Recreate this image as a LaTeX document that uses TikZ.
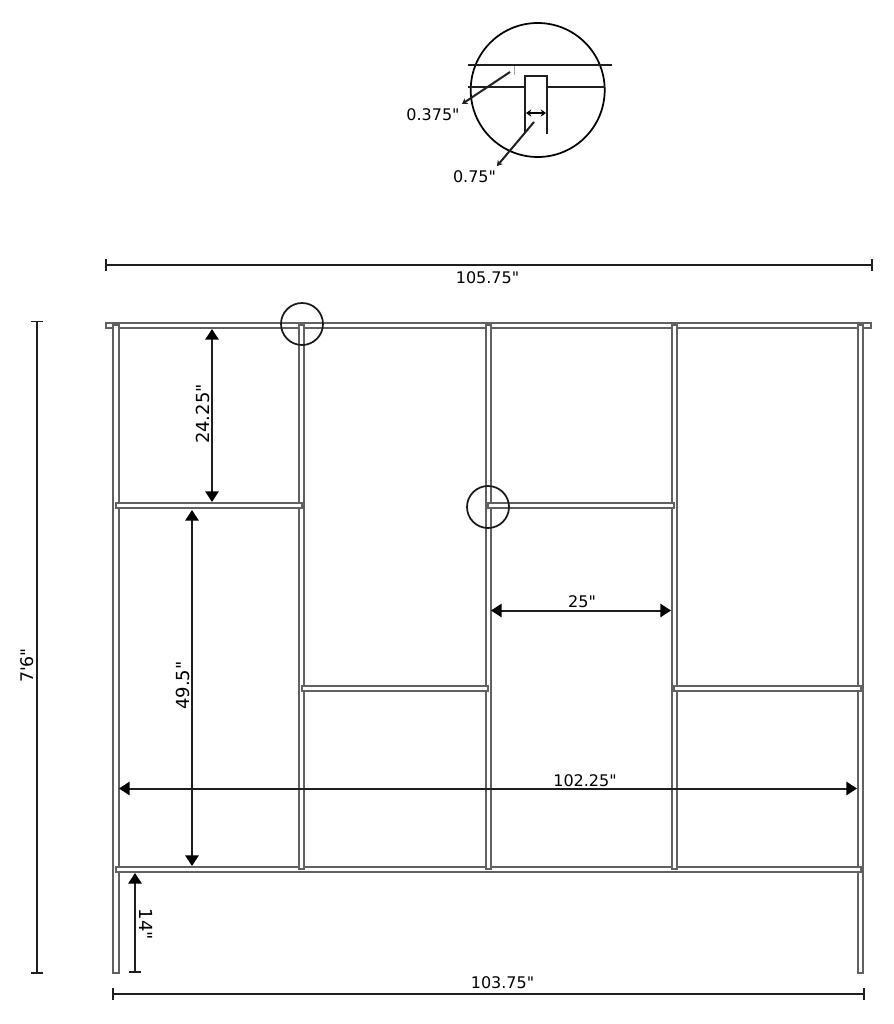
\documentclass[tikz,border=0pt]{standalone}
\usepackage{fontspec}
\setmainfont{DejaVu Sans}[Ligatures=TeXOff]
\usetikzlibrary{arrows.meta}
\newcommand{\barbox}[5]{\node[barstyle,minimum width={(#4-#2)*0.75pt},minimum height={(#5-#3)*0.75pt}] (#1) at ({(#2+#4)/2},{(#3+#5)/2}) {};}
\tikzset{
  barstyle/.style={draw=black!62,fill=white,line width=1.5pt,inner sep=0pt,outer sep=0pt,rectangle},
  dimline/.style={draw=black!88,line width=1.5pt},
  bigtips/.style={{Triangle[length=8pt,width=10pt,color=black]}-{Triangle[length=8pt,width=10pt,color=black]}},
  endbars/.style={{Bar[width=9pt,line width=1.2pt]}-{Bar[width=9pt,line width=1.2pt]}},
  lowbar/.style={{Triangle[length=8pt,width=10pt,color=black]}-{Bar[width=9pt,line width=1.2pt]}},
  label/.style={font=\fontsize{12pt}{14pt}\selectfont,inner sep=0pt,text=black},
  biglabel/.style={font=\fontsize{13.5pt}{16pt}\selectfont,inner sep=0pt,text=black},
  detail/.style={draw=black!88,line width=1.4pt},
  ring/.style={draw=black!90,line width=1.3pt,circle,inner sep=0pt,outer sep=0pt,fill=none},
  leader/.style={draw=black!88,line width=1.5pt,-{Stealth[length=4pt,width=5pt]}},
  tinyarrows/.style={draw=black,line width=1.1pt,{Stealth[length=4pt,width=5.5pt]}-{Stealth[length=4pt,width=5.5pt]}}
}
\begin{document}
\begin{tikzpicture}[x=0.75pt,y=-0.75pt]
\useasboundingbox (0,0) rectangle (893,1024);
% frame
\barbox{topshelf}{106}{322.5}{870.5}{327.7}
\barbox{postA}{113.2}{325}{118.5}{973}
\barbox{postE}{857.7}{325}{863}{973}
\barbox{lowshelf}{115.8}{866.5}{860.5}{871.8}
\barbox{postB}{299.2}{325}{304.4}{869}
\barbox{postC}{485.5}{325}{490.7}{869}
\barbox{postD}{671.5}{325}{676.9}{869}
\barbox{shelfA}{115.8}{503}{301.7}{508.2}
\barbox{shelfB}{488}{503}{674.2}{508.4}
\barbox{shelfC}{302}{685.6}{488}{690.8}
\barbox{shelfD}{674.2}{685.6}{860.5}{690.8}
% small circles
\node[ring,minimum size=31.5pt] (ringA) at (302,324) {};
\node[ring,minimum size=31.5pt] (ringB) at (488,507) {};
% dimension ends
\coordinate (wTopL) at (105.2,265); \coordinate (wTopR) at (873,265);
\coordinate (hL) at (37,320.5); \coordinate (hR) at (37,973.5);
\coordinate (d24a) at (212,329); \coordinate (d24b) at (212,502);
\coordinate (d49a) at (192,510); \coordinate (d49b) at (192,866);
\coordinate (d25a) at (491,610.5); \coordinate (d25b) at (671,610.5);
\coordinate (d102a) at (119,788.5); \coordinate (d102b) at (857,788.5);
\coordinate (d14a) at (135,873); \coordinate (d14b) at (135,972.5);
\coordinate (wBotL) at (112.3,994); \coordinate (wBotR) at (864.5,994);
\draw[dimline,endbars] (wTopL) -- (wTopR);
\draw[dimline,endbars] (hL) -- (hR);
\draw[dimline,bigtips] (d24a) -- (d24b);
\draw[dimline,bigtips] (d49a) -- (d49b);
\draw[dimline,bigtips] (d25a) -- (d25b);
\draw[dimline,bigtips] (d102a) -- (d102b);
\draw[dimline,lowbar] (d14a) -- (d14b);
\draw[dimline,endbars] (wBotL) -- (wBotR);
% labels
\node[label] (t105) at (487.5,277.5) {105.75"};
\node[label,rotate=90,font=\fontsize{13pt}{15pt}\selectfont] (t76) at (27.5,665.5) {7'6"};
\node[biglabel,rotate=90] (t24) at (202.5,414) {24.25"};
\node[biglabel,rotate=90] (t49) at (183,685.5) {49.5"};
\node[label] (t25) at (582,601.5) {25"};
\node[label] (t102) at (585,780.5) {102.25"};
\node[biglabel,rotate=-90] (t14) at (146,924.5) {14"};
\node[label] (t103) at (502.5,982.5) {103.75"};
% detail
\node[ring,draw=black,minimum size=100.5pt] (zoomring) at (537.7,90) {};
\coordinate (railL) at (467.5,65.3); \coordinate (railR) at (611.5,65.3);
\coordinate (lowL) at (467.5,87.3); \coordinate (lowA) at (525,87.3);
\coordinate (lowB) at (546.7,87.3); \coordinate (lowR) at (605,87.3);
\coordinate (pLb) at (525,131.7); \coordinate (pLt) at (525,76.3);
\coordinate (pRt) at (546.7,76.3); \coordinate (pRb) at (546.7,134);
\draw[detail] (railL) -- (railR);
\draw[detail] (lowL) -- (lowA);
\draw[detail] (lowB) -- (lowR);
\draw[detail] (pLb) -- (pLt) -- (pRt) -- (pRb);
\coordinate (tickA) at (514.7,66.5); \coordinate (tickB) at (514.7,75.5);
\draw[draw=black!35,line width=0.8pt] (tickA) -- (tickB);
\coordinate (inA) at (526,113); \coordinate (inB) at (546,113);
\draw[tinyarrows] (inA) -- (inB);
\coordinate (leadA) at (510,72); \coordinate (leadAend) at (462,104);
\coordinate (leadB) at (534,122); \coordinate (leadBend) at (497,166);
\draw[leader] (leadA) -- (leadAend);
\draw[leader] (leadB) -- (leadBend);
\node[label] (t375) at (433,114.5) {0.375"};
\node[label] (t75) at (474.5,176.5) {0.75"};
\end{tikzpicture}
\end{document}
